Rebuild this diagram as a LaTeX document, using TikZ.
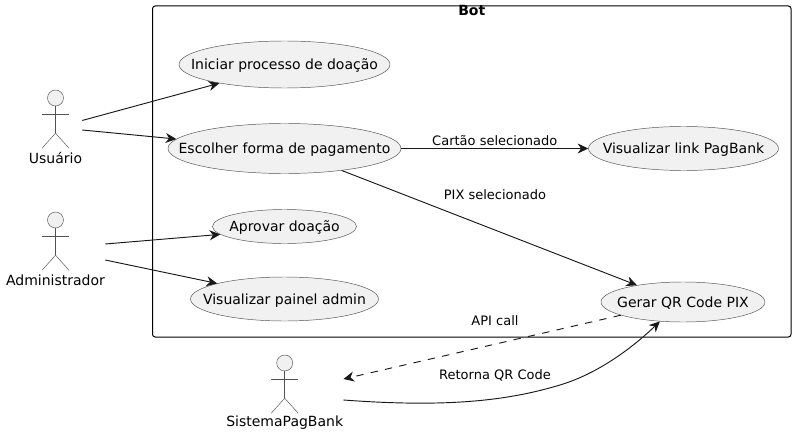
\documentclass[tikz,border=0pt]{standalone}
\usepackage{fontspec}
\setmainfont{DejaVu Sans}
\usetikzlibrary{shapes.geometric,arrows.meta}
\definecolor{ink}{HTML}{181818}
\definecolor{uc}{HTML}{F1F1F1}
\newcommand{\uctext}[1]{\makebox[0pt]{\raisebox{-0.37em}[0pt][0pt]{#1}}}
\tikzset{
  uscase/.style={ellipse,draw=ink!75,line width=0.35pt,fill=uc,inner sep=0pt,font=\fontsize{10.5}{12}\selectfont,text=black},
  actorbox/.style={rectangle,inner sep=0pt,draw=none},
  actorname/.style={inner sep=0pt,font=\fontsize{10.5}{12}\selectfont},
  stick/.style={draw=ink!75,line width=0.35pt},
  head/.style={circle,draw=ink!75,line width=0.35pt,fill=uc,minimum size=12pt,inner sep=0pt},
  conn/.style={draw=ink,line width=0.7pt,-{Stealth[length=8pt,width=7.5pt,inset=2.6pt]}},
  elabel/.style={inner sep=0pt,font=\fontsize{9.75}{12}\selectfont},
  frame/.style={draw=black,line width=0.75pt,rounded corners=2pt}
}
\newcommand{\stickman}[3]{%
  % #1 name, #2 x centre, #3 head centre y
  \node[head] (#1head) at (#2,#3) {};
  \draw[stick] (#1head.south) -- ++(0,27) coordinate (#1hip);
  \draw[stick] ([yshift=-6pt]#1head.south) ++(-13.5,0) -- ++(27,0);
  \draw[stick] (#1hip) -- ++(-13.5,15);
  \draw[stick] (#1hip) -- ++(13.5,15);
}
\begin{document}
\begin{tikzpicture}[x=0.75pt,y=-0.75pt]
\useasboundingbox (0,0) rectangle (796,435);
\node[frame,minimum width=638.5*0.75pt,minimum height=331*0.75pt,inner sep=0pt] (bot) at (471.75,171.5) {};
\node[inner sep=0pt,font=\fontsize{10.5}{12}\selectfont\bfseries] (bottitle) at (471.75,10.5) {Bot};

\node[uscase,minimum width=211*0.75pt,minimum height=47*0.75pt] (ini) at (284.5,64.5) {\uctext{Iniciar processo de doação}};
\node[uscase,minimum width=233*0.75pt,minimum height=50*0.75pt] (esc) at (284.5,148.5) {\uctext{Escolher forma de pagamento}};
\node[uscase,minimum width=144*0.75pt,minimum height=34*0.75pt] (apr) at (284.5,226.5) {\uctext{Aprovar doação}};
\node[uscase,minimum width=188*0.75pt,minimum height=44*0.75pt] (pai) at (284.5,299) {\uctext{Visualizar painel admin}};
\node[uscase,minimum width=190*0.75pt,minimum height=44*0.75pt] (lnk) at (683.5,148.5) {\uctext{Visualizar link PagBank}};
\node[uscase,minimum width=164*0.75pt,minimum height=40*0.75pt] (qr) at (683,302) {\uctext{Gerar QR Code PIX}};

\stickman{u}{55.5}{98}
\node[actorname] (uname) at (55.5,158) {Usuário};
\node[actorbox,minimum width=53*0.75pt,minimum height=76*0.75pt] (usr) at (55.5,125) {};

\stickman{a}{55.5}{220}
\node[actorname] (aname) at (55.5,280) {Administrador};
\node[actorbox,minimum width=99*0.75pt,minimum height=76*0.75pt] (adm) at (55.5,252) {};

\stickman{s}{284.7}{363}
\node[actorname] (sname) at (284.7,423) {SistemaPagBank};
\node[actorbox,minimum width=117*0.75pt,minimum height=76*0.75pt] (sis) at (284.7,390) {};

\coordinate (bend) at (560,385);
\draw[conn] ([yshift=3.4pt]usr.east) -- (ini.196);
\draw[conn] ([yshift=-3.75pt]usr.east) -- (esc.175.7);
\draw[conn] ([yshift=6pt]adm.east) -- (apr.187);
\draw[conn] ([yshift=-6pt]adm.east) -- (pai.167.7);
\draw[conn] (esc.east) -- node[elabel,above=2pt] (l1) {Cartão selecionado} (lnk.west);
\draw[conn] (esc.-21.3) -- (qr.160.4);
\node[elabel] (l2) at (495,195) {PIX selecionado};
\draw[conn,dash pattern=on 5.5pt off 5.5pt] (qr.192.6) -- ([yshift=8.25pt]sis.east);
\node[elabel] (l3) at (495,321) {API call};
\draw[conn] ([yshift=-7.5pt]sis.east) .. controls +(107,8) and +(-50,15) .. (bend) .. controls +(40,-12) and +(-25,24) .. (qr.220);
\node[elabel] (l4) at (495,375) {Retorna QR Code};
\end{tikzpicture}
\end{document}
